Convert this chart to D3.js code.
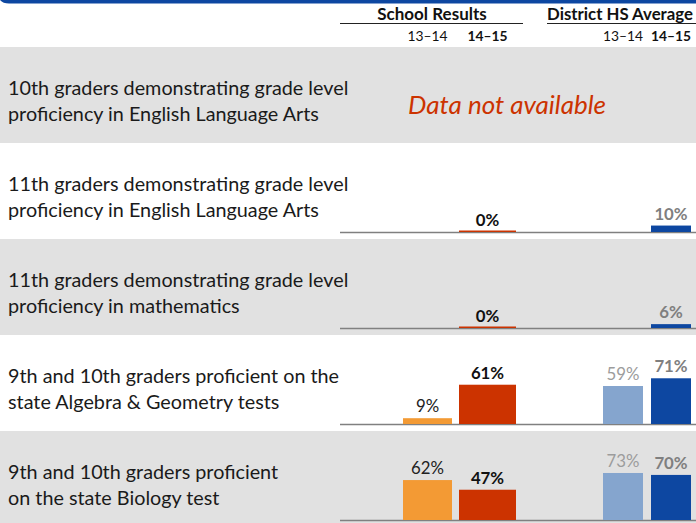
<!DOCTYPE html>
<html>
<head>
<meta charset="utf-8">
<title>School results</title>
<script src="https://cdnjs.cloudflare.com/ajax/libs/d3/7.8.5/d3.min.js"></script>
<style>
  body { margin: 0; background: #fff; }
  svg { display: block; font-family: Lato, "Noto Sans", sans-serif; }
</style>
</head>
<body>
<div id="chart"></div>
<script>
// data
const categories = [
    ["10th graders demonstrating grade level", "proficiency in English Language Arts"],
    ["11th graders demonstrating grade level", "proficiency in English Language Arts"],
    ["11th graders demonstrating grade level", "proficiency in mathematics"],
    ["9th and 10th graders proficient on the", "state Algebra & Geometry tests"],
    ["9th and 10th graders proficient", "on the state Biology test"]
];
const school1314 = [null, null, null, 9, 62];
const school1415 = [null, 0, 0, 61, 47];
const district1314 = [null, null, null, 59, 73];
const district1415 = [null, 10, 6, 71, 70];
const groupLabels = ["School Results", "District HS Average"];
const yearLabels = ["13\u201314", "14\u201315"];
const missingText = "Data not available";

const width = 696, height = 523;

const svg = d3.select("#chart").append("svg")
    .attr("width", width)
    .attr("height", height);

// rows
const rowY = d3.scaleBand()
    .domain(d3.range(categories.length))
    .range([47, 47 + 96 * categories.length]);
const rowH = rowY.bandwidth();

// bar height, 100% = ~64px
const y = d3.scaleLinear().domain([0, 100]).range([0, 64.4]);

// series columns
const series = [
    { key: "s13", values: school1314, x: 403, w: 49, fill: "#F39A34", label: "#222", weight: "normal" },
    { key: "s14", values: school1415, x: 459, w: 57, fill: "#CC3300", label: "#111", weight: "bold" },
    { key: "d13", values: district1314, x: 603, w: 40, fill: "#85A5CE", label: "#9c9c9c", weight: "normal" },
    { key: "d14", values: district1415, x: 651, w: 40, fill: "#0D47A1", label: "#7f7f7f", weight: "bold" }
];

// top blue rule
svg.append("path")
    .attr("d", `M0,0 L${width},0 L${width},3.5 L9,3.5 Q3,3.5 0,0 Z`)
    .attr("fill", "#0D47A1");

// row backgrounds
svg.selectAll("rect.row")
    .data(categories)
    .enter().append("rect")
    .attr("class", "row")
    .attr("x", 0)
    .attr("y", (d, i) => rowY(i))
    .attr("width", width)
    .attr("height", rowH)
    .attr("fill", (d, i) => i % 2 === 0 ? "#E1E1E1" : "#fff");

// row labels
const labels = svg.selectAll("text.cat")
    .data(categories)
    .enter().append("text")
    .attr("class", "cat")
    .attr("x", 8)
    .attr("y", (d, i) => rowY(i) + 48)
    .style("font-size", "19.8px")
    .style("fill", "#1a1a1a");
labels.selectAll("tspan")
    .data(d => d)
    .enter().append("tspan")
    .attr("x", 8)
    .attr("dy", (d, i) => i === 0 ? 0 : 25.5)
    .text(d => d);

// header
const groups = [
    { label: groupLabels[0], cx: 432, x0: 340, x1: 523, size: "17px", cols: [series[0], series[1]] },
    { label: groupLabels[1], cx: 620, x0: 547, x1: 696, size: "16.8px", cols: [series[2], series[3]] }
];
groups.forEach(g => {
    svg.append("text")
        .attr("x", g.cx)
        .attr("y", 20)
        .attr("text-anchor", "middle")
        .style("font-size", g.size)
        .style("font-weight", "bold")
        .style("fill", "#111")
        .text(g.label);
    svg.append("line")
        .attr("x1", g.x0).attr("x2", g.x1)
        .attr("y1", 23.5).attr("y2", 23.5)
        .attr("stroke", "#222")
        .attr("stroke-width", 1);
    g.cols.forEach((s, j) => {
        svg.append("text")
            .attr("x", s.x + s.w / 2)
            .attr("y", 41)
            .attr("text-anchor", "middle")
            .style("font-size", "13.8px")
            .style("font-weight", j === 1 ? "bold" : "normal")
            .style("fill", "#111")
            .text(yearLabels[j]);
    });
});

// baselines and bars
categories.forEach((c, i) => {
    const base = rowY(i) + 89;
    const hasData = series.some(s => s.values[i] !== null);
    if (!hasData) {
        svg.append("text")
            .attr("x", 507)
            .attr("y", rowY(i) + 67)
            .attr("text-anchor", "middle")
            .style("font-size", "26px")
            .style("font-style", "italic")
            .style("fill", "#CC3300")
            .text(missingText);
        return;
    }
    svg.append("line")
        .attr("x1", 340).attr("x2", width)
        .attr("y1", base + 0.5).attr("y2", base + 0.5)
        .attr("stroke", "#808080")
        .attr("stroke-width", 1.5);

    series.forEach(s => {
        const v = s.values[i];
        if (v === null) return;
        const h = Math.max(y(v), 1.5);
        svg.append("rect")
            .attr("x", s.x)
            .attr("y", base - h)
            .attr("width", s.w)
            .attr("height", h)
            .attr("fill", s.fill);
        svg.append("text")
            .attr("x", s.x + s.w / 2)
            .attr("y", base - y(v) - 6)
            .attr("text-anchor", "middle")
            .style("font-size", "16.8px")
            .style("font-weight", s.weight)
            .style("fill", s.label)
            .text(v + "%");
    });
});
</script>
</body>
</html>
